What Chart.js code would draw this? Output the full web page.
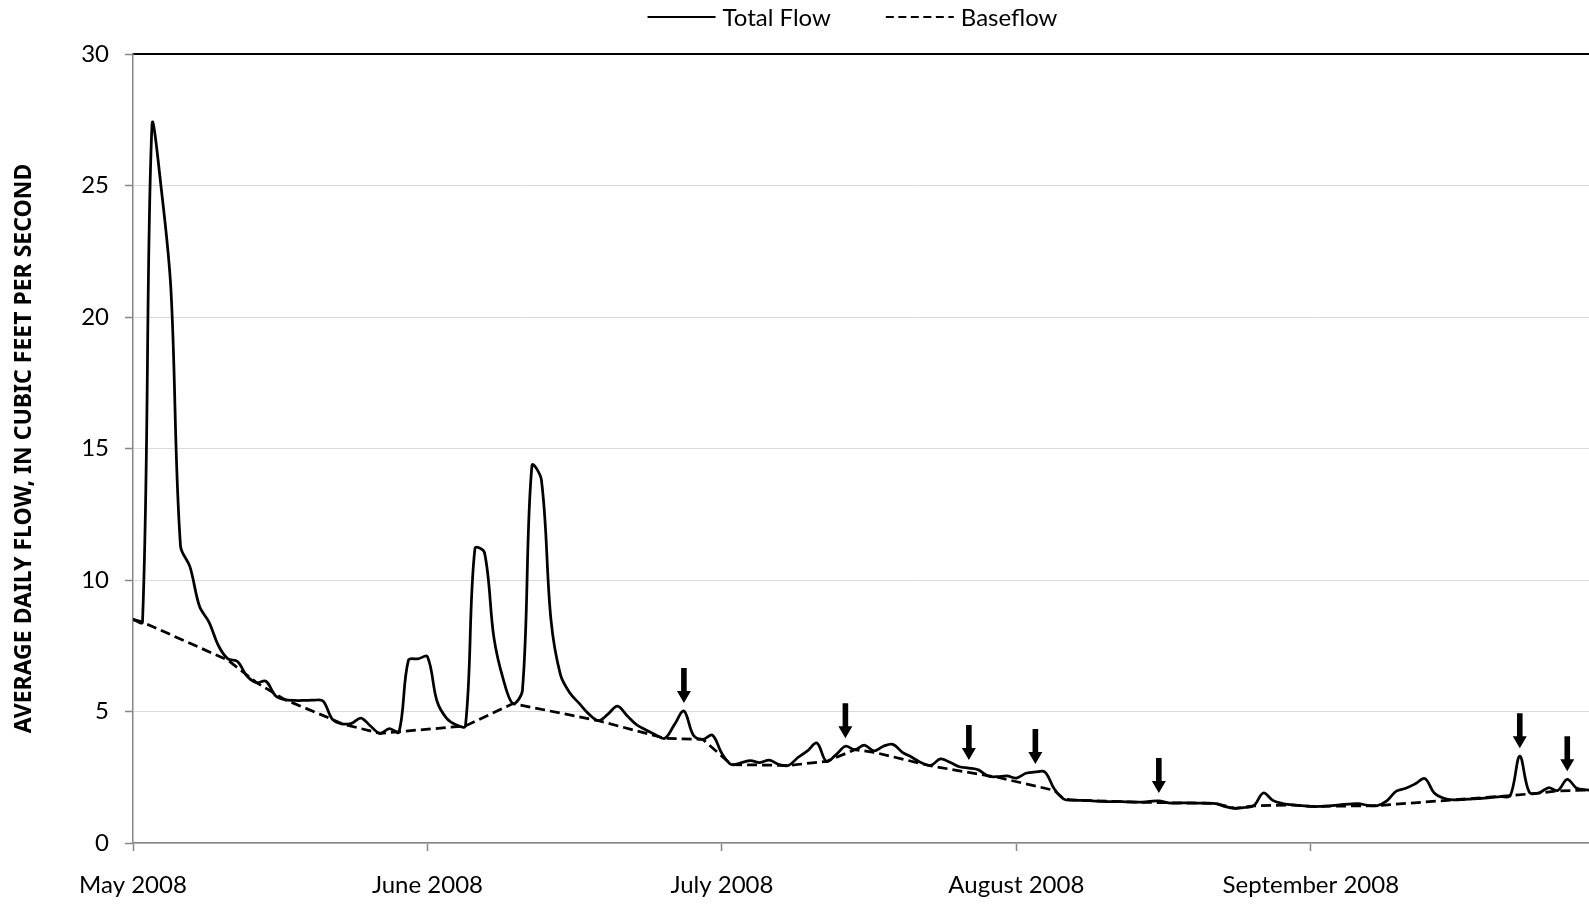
<!DOCTYPE html>
<html>
<head>
<meta charset="utf-8">
<title>Average daily flow, May - September 2008</title>
<script src="https://cdn.jsdelivr.net/npm/chart.js@4.4.1/dist/chart.umd.min.js"></script>
<style>
  html, body { margin: 0; padding: 0; background: #fff; overflow: hidden; }
  #flowChart { display: block; }
</style>
</head>
<body>
<canvas id="flowChart" width="1705" height="904"></canvas>
<script>
'use strict';

// average daily flow (cfs), one value per day from 1 May 2008
var totalFlow = [
    8.5, 8.4, 27.3, 24.8, 21.0, 11.3, 10.5, 9.0, 8.4, 7.5,
    7.0, 6.9, 6.35, 6.1, 6.15, 5.6, 5.45, 5.42, 5.42, 5.43,
    5.4, 4.7, 4.53, 4.55, 4.75, 4.45, 4.17, 4.35, 4.22, 6.95,
    7.0, 7.08, 5.4, 4.75, 4.5, 4.45, 11.2, 11.05, 7.8, 6.2,
    5.3, 5.8, 14.35, 13.8, 8.5, 6.4, 5.7, 5.3, 4.9, 4.65,
    4.9, 5.2, 4.85, 4.5, 4.3, 4.12, 3.98, 4.5, 5.02, 4.1,
    3.94, 4.1, 3.4, 2.98, 3.05, 3.13, 3.06, 3.15, 2.98, 2.95,
    3.25, 3.5, 3.8, 3.1, 3.35, 3.68, 3.55, 3.72, 3.5, 3.68,
    3.75, 3.45, 3.26, 3.05, 2.95, 3.2, 3.07, 2.9, 2.85, 2.78,
    2.55, 2.52, 2.55, 2.47, 2.65, 2.7, 2.7, 2.05, 1.67, 1.63,
    1.62, 1.6, 1.58, 1.57, 1.57, 1.56, 1.55, 1.58, 1.6, 1.53,
    1.52, 1.53, 1.52, 1.52, 1.5, 1.38, 1.32, 1.35, 1.42, 1.9,
    1.62, 1.5, 1.45, 1.42, 1.39, 1.39, 1.41, 1.45, 1.48, 1.5,
    1.43, 1.42, 1.6, 1.97, 2.08, 2.25, 2.45, 1.9, 1.7, 1.64,
    1.65, 1.68, 1.7, 1.73, 1.76, 1.8, 3.3, 1.93, 1.9, 2.1,
    2.0, 2.42, 2.08, 2.02, 2.0
];

// baseflow, straight segments between the turning points (day, cfs)
var baseDays = [0, 1, 10, 13, 16, 21, 22, 26, 35, 40, 49, 56, 60, 63, 69, 73, 76, 78,
    84, 91, 97, 98, 99, 106, 109, 114, 116, 118, 122, 124, 131, 139, 145, 148, 150, 154];
var baseFlow = [8.5, 8.4, 6.95, 6.1, 5.45, 4.7, 4.53, 4.17, 4.45, 5.3, 4.65, 3.98, 3.94, 2.98, 2.95, 3.1, 3.55, 3.45,
    2.93, 2.5, 2.0, 1.67, 1.63, 1.55, 1.53, 1.5, 1.32, 1.41, 1.45, 1.39, 1.42, 1.64, 1.8, 1.9, 1.98, 2.02];

// x axis ticks, every 31 days
var monthTicks = [0, 31, 62, 93, 124];
var monthLabels = ['May 2008', 'June 2008', 'July 2008', 'August 2008', 'September 2008'];

// small storm events marked with an arrow
var eventDays = [58, 75, 88, 95, 108, 146, 151];

var FONT = 'Lato';
var DAY_MAX = 165.5;

var eventArrows = {
    id: 'eventArrows',
    afterDatasetsDraw: function (chart) {
        var ctx = chart.ctx;
        var xs = chart.scales.x;
        var ys = chart.scales.y;
        ctx.save();
        ctx.fillStyle = '#000';
        eventDays.forEach(function (day) {
            var px = xs.getPixelForValue(day);
            var tip = ys.getPixelForValue(totalFlow[day]) - 8;
            ctx.beginPath();
            ctx.moveTo(px - 2.8, tip - 35);
            ctx.lineTo(px + 2.8, tip - 35);
            ctx.lineTo(px + 2.8, tip - 12);
            ctx.lineTo(px + 7, tip - 12);
            ctx.lineTo(px, tip);
            ctx.lineTo(px - 7, tip - 12);
            ctx.lineTo(px - 2.8, tip - 12);
            ctx.closePath();
            ctx.fill();
        });
        ctx.restore();
    }
};

// legend: line sample + label, centred over the canvas
var lineLegend = {
    id: 'lineLegend',
    afterDraw: function (chart) {
        var ctx = chart.ctx;
        var sample = 68, gap = 7, spacing = 55, cy = 17;
        ctx.save();
        ctx.font = '24px ' + FONT;
        ctx.textBaseline = 'middle';
        var items = chart.data.datasets.map(function (ds) {
            return { ds: ds, w: sample + gap + ctx.measureText(ds.label).width };
        });
        var total = spacing * (items.length - 1);
        items.forEach(function (it) { total += it.w; });
        var left = chart.width / 2 - total / 2;
        items.forEach(function (it) {
            ctx.strokeStyle = it.ds.borderColor;
            ctx.lineWidth = 2;
            ctx.setLineDash(it.ds.borderDash ? [8, 4.5] : []);
            ctx.beginPath();
            ctx.moveTo(left, cy);
            ctx.lineTo(left + sample, cy);
            ctx.stroke();
            ctx.setLineDash([]);
            ctx.fillStyle = '#000';
            ctx.fillText(it.ds.label, left + sample + gap, cy + 1);
            left += it.w + spacing;
        });
        ctx.restore();
    }
};

Chart.defaults.font.family = FONT;
Chart.defaults.color = '#000';

new Chart(document.getElementById('flowChart'), {
    type: 'line',
    data: {
        datasets: [{
            label: 'Total Flow',
            data: totalFlow.map(function (v, i) { return { x: i, y: v }; }),
            borderColor: '#000',
            borderWidth: 2.75,
            pointRadius: 0,
            tension: 0.35,
            fill: false
        }, {
            label: 'Baseflow',
            data: baseDays.map(function (d, i) { return { x: d, y: baseFlow[i] }; }),
            borderColor: '#000',
            borderWidth: 2.75,
            borderDash: [10, 5],
            pointRadius: 0,
            tension: 0,
            fill: false
        }]
    },
    options: {
        responsive: false,
        animation: false,
        layout: {
            padding: { top: 54, bottom: 0, left: 0, right: 0 }
        },
        plugins: {
            legend: { display: false },
            tooltip: { enabled: false }
        },
        scales: {
            x: {
                type: 'linear',
                min: 0,
                max: DAY_MAX,
                afterBuildTicks: function (scale) {
                    scale.ticks = monthTicks.map(function (v) { return { value: v }; });
                },
                afterFit: function (scale) { scale.height = 61; },
                ticks: {
                    autoSkip: false,
                    maxRotation: 0,
                    padding: 20,
                    font: { size: 24 },
                    callback: function (value) { return monthLabels[monthTicks.indexOf(value)]; }
                },
                grid: {
                    drawOnChartArea: false,
                    drawTicks: true,
                    tickLength: 8,
                    tickColor: '#868686',
                    tickWidth: 1.5
                },
                border: { color: '#868686', width: 1.5 }
            },
            // top frame line
            x2: {
                type: 'linear',
                position: 'top',
                min: 0,
                max: DAY_MAX,
                ticks: { display: false },
                grid: { drawOnChartArea: false, drawTicks: false },
                border: { color: '#000', width: 2 },
                afterFit: function (scale) { scale.height = 0; }
            },
            y: {
                min: 0,
                max: 30,
                ticks: { stepSize: 5, padding: 16, font: { size: 24 } },
                grid: {
                    color: '#d9d9d9',
                    lineWidth: 1,
                    tickColor: '#868686',
                    tickLength: 8,
                    tickWidth: 1.5
                },
                border: { color: '#868686', width: 1.5 },
                title: {
                    display: true,
                    text: 'AVERAGE DAILY FLOW, IN CUBIC FEET PER SECOND',
                    font: {
                        family: "'Liberation Sans Narrow', 'Noto Sans', 'DejaVu Sans'",
                        size: 23,
                        weight: 'bold'
                    },
                    padding: { top: 11, bottom: 0 }
                },
                afterFit: function (scale) { scale.width = 133; }
            }
        }
    },
    plugins: [eventArrows, lineLegend]
});
</script>
</body>
</html>
